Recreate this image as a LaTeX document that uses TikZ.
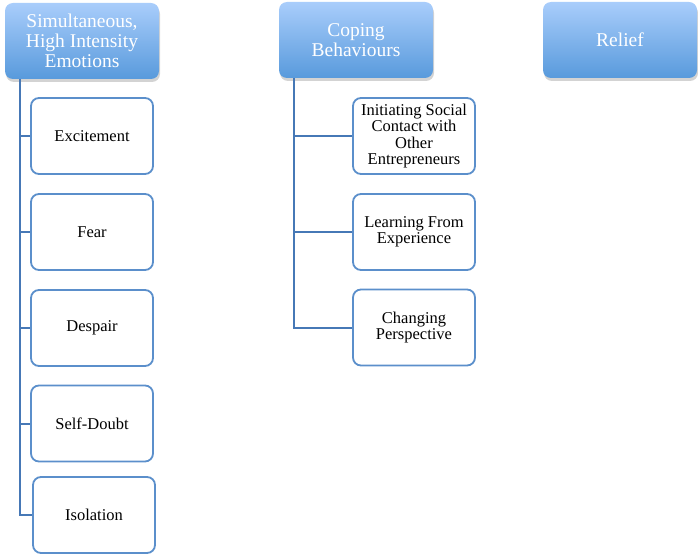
\documentclass[tikz,border=0pt]{standalone}
\usepackage{fontspec}
\setmainfont{Liberation Serif}
\usetikzlibrary{shadows, positioning}
\definecolor{headtop}{RGB}{169, 205, 251}
\definecolor{headbot}{RGB}{88, 154, 220}
\definecolor{boxblue}{RGB}{91, 143, 203}
\definecolor{trunkblue}{RGB}{70, 120, 182}

\begin{document}
\begin{tikzpicture}[x=1pt, y=-1pt,
  headbox/.style={rounded corners=8pt, top color=headtop, bottom color=headbot,
    minimum width=154pt, minimum height=76pt, text=white, align=center,
    font=\fontsize{19.5}{20}\selectfont,
    drop shadow={shadow xshift=1pt, shadow yshift=-3pt, opacity=0.35}},
  itembox/.style={draw=boxblue, line width=1.8pt, rounded corners=8pt, fill=white,
    minimum width=122pt, minimum height=76pt, align=center,
    font=\fontsize{16.5}{16.5}\selectfont},
  branch/.style={draw=trunkblue, line width=2pt}]
  \useasboundingbox (0, 0) rectangle (698, 556);

  % Three headings
  \node[headbox] (emo) at (82, 41) {Simultaneous,\\High Intensity\\Emotions};
  \node[headbox] (cope) at (356, 40) {Coping\\Behaviours};
  \node[headbox] (relief) at (620, 40) {Relief};

  % Emotions column
  \node[itembox] (exc) at (92, 136) {Excitement};
  \node[itembox] (fear) at (92, 232) {Fear};
  \node[itembox] (desp) at (92, 328) {Despair};
  \node[itembox] (doubt) at (92, 423.5) {Self-Doubt};
  \node[itembox] (isol) at (94, 515) {Isolation};

  % Coping column
  \node[itembox] (init) at (414, 136) {Initiating Social\\Contact with\\Other\\Entrepreneurs};
  \node[itembox] (learn) at (414, 232) {Learning From\\Experience};
  \node[itembox] (chg) at (414, 327.5) {Changing\\Perspective};

  % Trunks and branches
  \coordinate (t1) at ([xshift=15pt]emo.south west);
  \coordinate (t2) at ([xshift=15pt]cope.south west);
  \draw[branch] (t1) |- (isol.west);
  \foreach \n in {exc, fear, desp, doubt}
    \draw[branch] (t1 |- \n.west) -- (\n.west);
  \draw[branch] (t2) |- (chg.west);
  \foreach \n in {init, learn}
    \draw[branch] (t2 |- \n.west) -- (\n.west);
\end{tikzpicture}
\end{document}
